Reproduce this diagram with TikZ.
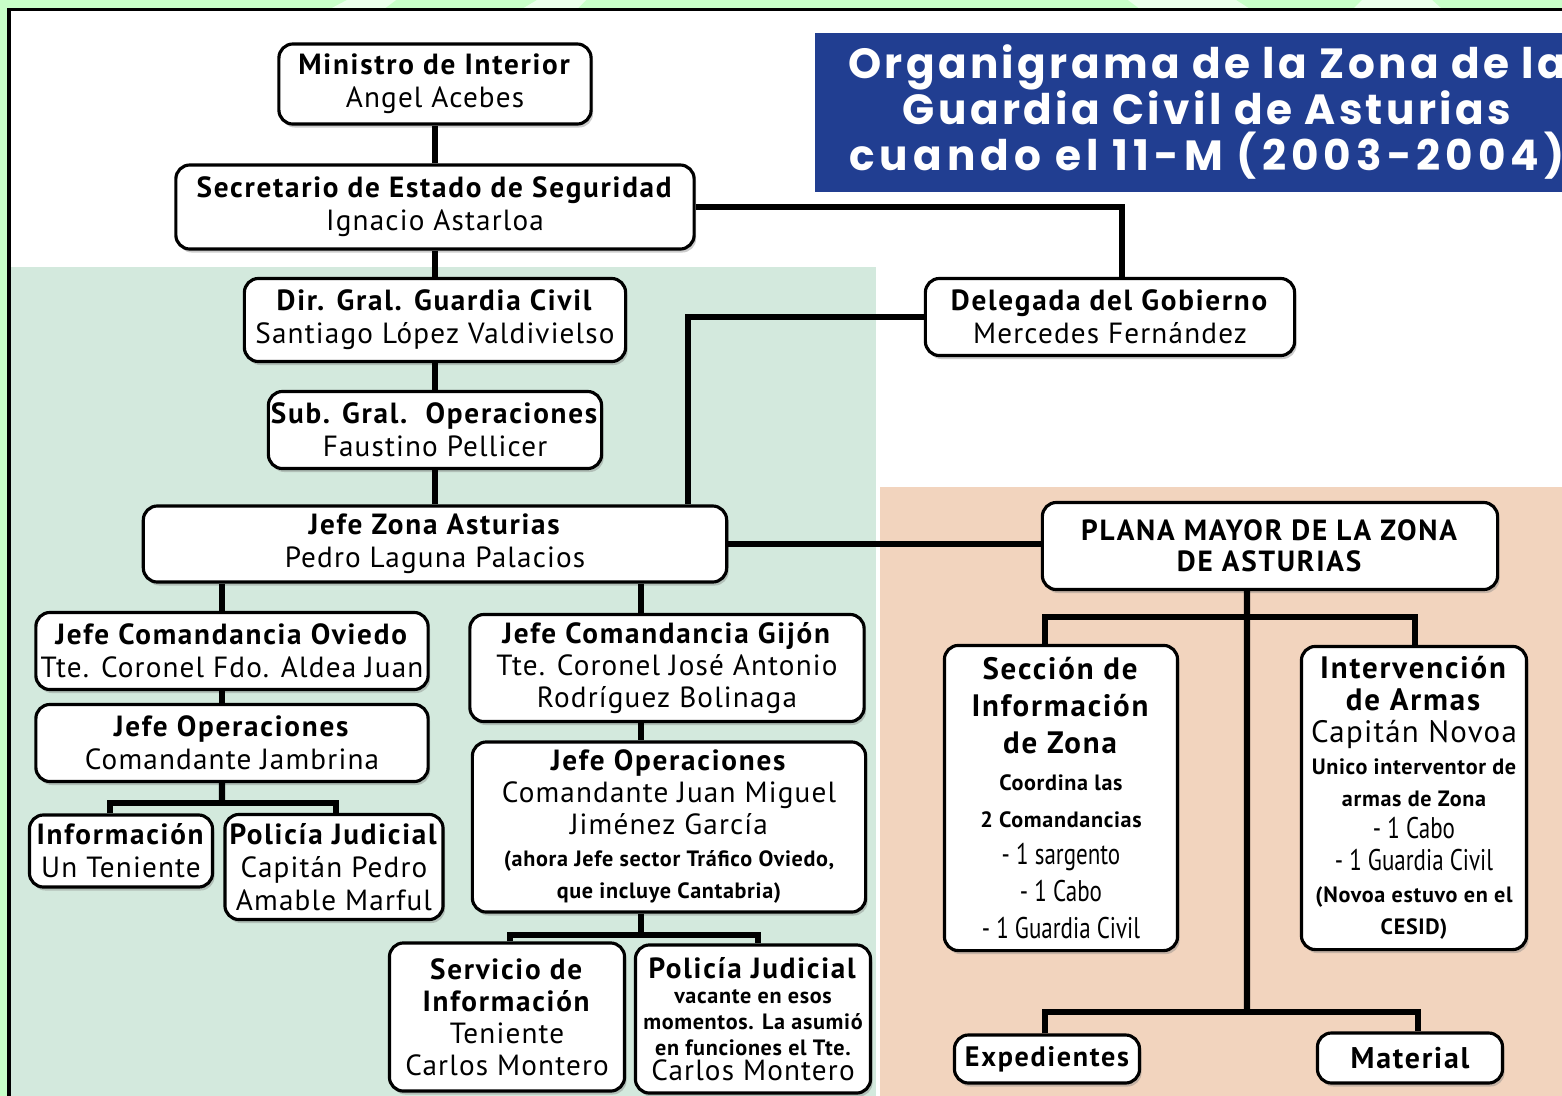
\documentclass[tikz,border=0pt]{standalone}
\usepackage{fontspec}
\setmainfont{PT Sans}[LetterSpace=4, BoldFeatures={LetterSpace=6}]
\newfontfamily\titlefamily{Poppins}[LetterSpace=8]
\newfontfamily\notefamily{PT Sans}[LetterSpace=3]
\newfontfamily\condfamily{PT Sans}[FakeStretch=0.77]
\usetikzlibrary{positioning, shadows}
\definecolor{framegreen}{RGB}{200,255,200}
\definecolor{zonegreen}{RGB}{211,233,221}
\definecolor{staffpeach}{RGB}{242,212,190}
\definecolor{titleblue}{RGB}{33,62,145}
\newcommand{\notefont}{\notefamily\bfseries\fontsize{6.3}{7}\selectfont}
\newcommand{\condfont}{\condfamily\fontsize{8.5}{9}\selectfont}

\tikzset{
  orgbox/.style={draw, line width=0.9pt, rounded corners=1.4mm, fill=white, align=center, inner sep=0pt,
    font=\fontsize{8.3}{9.3}\selectfont,
    drop shadow={opacity=0.4, shadow xshift=0.2mm, shadow yshift=-0.35mm}},
  bigbox/.style={orgbox, font=\fontsize{8.8}{10.5}\selectfont},
  link/.style={line width=1.8pt},
  titletext/.style={align=center, text=white, font=\titlefamily\bfseries\fontsize{12}{13}\selectfont},
}

\begin{document}
\begin{tikzpicture}[x=0.01cm, y=-0.01cm]
\useasboundingbox (0,0) rectangle (1562,1096);
\clip (0,0) rectangle (1562,1096);

% frame and coloured areas
\fill[framegreen] (0,0) rectangle (1562,1096);
\fill[white, opacity=0.65] (330,9) -- (347,0) -- (396,0) -- (384,9) -- cycle;
\fill[white, opacity=0.65] (522,9) -- (537,0) -- (586,0) -- (577,9) -- cycle;
\fill[white, opacity=0.65] (1140,9) -- (1128,0) -- (1236,0) -- (1250,9) -- cycle;
\fill[white, opacity=0.65] (1353,9) -- (1362,0) -- (1432,0) -- (1442,9) -- cycle;
\fill[white] (9,9) rectangle (1562,1096);
\fill[zonegreen] (10,267) rectangle (876,1096);
\fill[staffpeach] (880,487) rectangle (1562,1096);
\draw[line width=0.3mm] (9,1096) -- (9,9) -- (1562,9);

% title
\fill[titleblue] (815,33) rectangle (1562,192);
\node[titletext] (title) at (1207,112) {Organigrama de la Zona de la\\Guardia Civil de Asturias\\{\addfontfeature{LetterSpace=12}cuando el 11-M (2003-2004)}};

% main line
\node[orgbox, minimum width=3.12cm, minimum height=0.80cm] (ministro) at (435,84) {\textbf{Ministro de Interior}\\Angel Acebes};
\node[orgbox, minimum width=5.18cm, minimum height=0.84cm] (secretario) at (435,207) {\textbf{Secretario de Estado de Seguridad}\\Ignacio Astarloa};
\node[orgbox, minimum width=3.81cm, minimum height=0.83cm] (dirgral) at (435,320) {\textbf{Dir. Gral. Guardia Civil}\\Santiago López Valdivielso};
\node[orgbox, minimum width=3.33cm, minimum height=0.77cm] (subgral) at (435,430) {\textbf{Sub. Gral.\ \ Operaciones}\\Faustino Pellicer};
\node[orgbox, minimum width=5.83cm, minimum height=0.76cm] (jefezona) at (435,544) {\textbf{Jefe Zona Asturias}\\Pedro Laguna Palacios};
\node[orgbox, minimum width=3.69cm, minimum height=0.77cm] (delegada) at (1110,317) {\textbf{Delegada del Gobierno}\\Mercedes Fernández};

% Oviedo
\node[orgbox, minimum width=3.92cm, minimum height=0.77cm] (oviedo) at (232,651) {\textbf{Jefe Comandancia Oviedo}\\Tte. Coronel Fdo. Aldea Juan};
\node[orgbox, minimum width=3.92cm, minimum height=0.77cm] (opoviedo) at (232,743) {\textbf{Jefe Operaciones}\\Comandante Jambrina};
\node[orgbox, minimum width=1.83cm, minimum height=0.72cm] (infoov) at (121,851) {\textbf{Información}\\Un Teniente};
\node[orgbox, minimum width=2.18cm, minimum height=1.05cm] (pjov) at (334,867) {\textbf{Policía Judicial}\\Capitán Pedro\\Amable Marful};

% Gijon
\node[orgbox, minimum width=3.94cm, minimum height=1.07cm, font=\fontsize{8.3}{9.1}\selectfont] (gijon) at (667,668) {\textbf{Jefe Comandancia Gijón}\\Tte. Coronel José Antonio\\Rodríguez Bolinaga};
\node[orgbox, minimum width=3.93cm, minimum height=1.70cm, font=\fontsize{8.3}{9.1}\selectfont] (opgijon) at (669,827) {\textbf{Jefe Operaciones}\\Comandante Juan Miguel\\Jiménez García\\{\notefont (ahora Jefe sector Tráfico Oviedo,}\\{\notefont que incluye Cantabria)}};
\node[orgbox, minimum width=2.35cm, minimum height=1.48cm, font=\fontsize{8.3}{9.1}\selectfont] (servinfo) at (507,1017) {\textbf{Servicio de}\\\textbf{Información}\\Teniente\\Carlos Montero};
\node[orgbox, minimum width=2.35cm, minimum height=1.48cm, font=\fontsize{8.3}{7.3}\selectfont] (pjgijon) at (753,1019) {\textbf{Policía Judicial}\\{\notefont vacante en esos}\\{\notefont momentos. La asumió}\\{\notefont en funciones el Tte.}\\Carlos Montero};

% plana mayor
\node[orgbox, minimum width=4.55cm, minimum height=0.87cm, font=\fontsize{8.3}{8.8}\selectfont] (plana) at (1270,546) {\textbf{PLANA MAYOR DE LA ZONA}\\\textbf{DE ASTURIAS}};
\node[bigbox, minimum width=2.33cm, minimum height=3.05cm] (seccion) at (1061,798) {\textbf{Sección de}\\\textbf{Información}\\\textbf{de Zona}\\{\notefont Coordina las}\\{\notefont 2 Comandancias}\\{\condfont - 1 sargento}\\{\condfont - 1 Cabo}\\{\condfont - 1 Guardia Civil}};
\node[bigbox, minimum width=2.25cm, minimum height=3.03cm, font=\fontsize{8.8}{9.1}\selectfont] (interv) at (1414,798) {\textbf{Intervención}\\\textbf{de Armas}\\Capitán Novoa\\{\notefont Unico interventor de}\\{\notefont armas de Zona}\\{\condfont - 1 Cabo}\\{\condfont - 1 Guardia Civil}\\{\notefont (Novoa estuvo en el}\\{\notefont CESID)}};
\node[orgbox, minimum width=1.85cm, minimum height=0.48cm, font=\bfseries\fontsize{8}{9}\selectfont] (exped) at (1047,1059) {Expedientes};
\node[orgbox, minimum width=1.85cm, minimum height=0.50cm, font=\bfseries\fontsize{8.5}{9}\selectfont] (material) at (1410,1058) {Material};

% connectors
\draw[link] (ministro) -- (secretario);
\draw[link] (secretario) -- (dirgral);
\draw[link] (dirgral) -- (subgral);
\draw[link] (subgral) -- (jefezona);
\draw[link] (secretario.east) -| ([xshift=0.12cm]delegada.north);
\draw[link] (delegada.west) -| ([xshift=2.53cm]jefezona.north);
\draw[link] (jefezona.east) -- (jefezona.east -| plana.west);

\draw[link] ([xshift=-0.1cm]oviedo.north) -- ([xshift=-0.1cm]oviedo.north |- jefezona.south);
\draw[link] ([xshift=-0.1cm]oviedo.south) -- ([xshift=-0.1cm]oviedo.south |- opoviedo.north);
\coordinate (forkov) at (222,803);
\draw[link] ([xshift=-0.1cm]opoviedo.south) -- (forkov);
\draw[link] ([xshift=-0.11cm]infoov.north) |- (forkov) -| ([xshift=0.02cm]pjov.north);

\draw[link] ([xshift=-0.26cm]gijon.north) -- ([xshift=-0.26cm]gijon.north |- jefezona.south);
\draw[link] ([xshift=-0.26cm]gijon.south) -- ([xshift=-0.26cm]gijon.south |- opgijon.north);
\coordinate (forkgij) at (641,935);
\draw[link] (forkgij |- opgijon.south) -- (forkgij);
\draw[link] ([xshift=0.03cm]servinfo.north) |- (forkgij) -| ([xshift=0.05cm]pjgijon.north);

\coordinate (forktop) at (1247,617);
\coordinate (forkbot) at (1247,1012);
\draw[link] ([xshift=-0.23cm]plana.south) -- (forkbot);
\draw[link] ([xshift=-0.16cm]seccion.north) |- (forktop) -| ([xshift=0.01cm]interv.north);
\draw[link] ([xshift=-0.02cm]exped.north) |- (forkbot) -| ([xshift=0.08cm]material.north);
\end{tikzpicture}
\end{document}
